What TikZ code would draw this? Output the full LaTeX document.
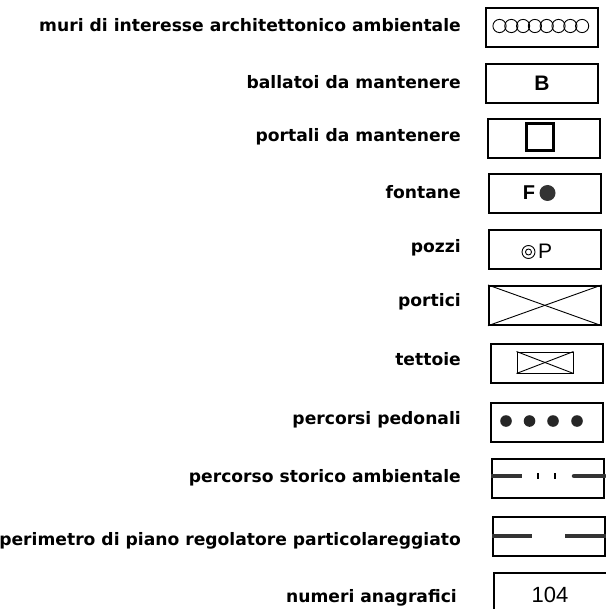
\documentclass[tikz,border=0pt]{standalone}
\usepackage{fontspec}
\setmainfont{DejaVu Sans}
\newfontfamily\symfont{Liberation Sans}
\begin{document}
\begin{tikzpicture}[x=1pt,y=-1pt,
  lbl/.style={anchor=east,font=\bfseries\fontsize{17.15}{20}\selectfont,inner sep=0pt},
  sym/.style={draw,line width=1.7pt,minimum width=112pt,minimum height=39pt,inner sep=0pt,anchor=north west},
  thin/.style={line width=0.9pt},
  thick bar/.style={line width=4.5pt},
  symtext/.style={font=\symfont\fontsize{21}{22}\selectfont,inner sep=0pt,anchor=center}]
\useasboundingbox (0,0) rectangle (605,609);
% labels
\node[lbl] (l1) at (461,25) {muri di interesse architettonico ambientale};
\node[lbl] (l2) at (461,82) {ballatoi da mantenere};
\node[lbl] (l3) at (461,137) {portali da mantenere};
\node[lbl] (l4) at (461,192) {fontane};
\node[lbl] (l5) at (461,248) {pozzi};
\node[lbl] (l6) at (461,302) {portici};
\node[lbl] (l7) at (461,359) {tettoie};
\node[lbl] (l8) at (461,420) {percorsi pedonali};
\node[lbl] (l9) at (461,478) {percorso storico ambientale};
\node[lbl] (l10) at (461,541) {perimetro di piano regolatore particolareggiato};
\node[lbl] (l11) at (457,598) {numeri anagrafici};
% symbol boxes
\node[sym] (b1) at (485,7) {};
\foreach \i in {0,...,7} \draw[thin] (499.5+\i*11.8,26) circle (6.6pt);
\node[sym] (b2) at (485,63) {};
\node[symtext,font=\symfont\bfseries\fontsize{21}{22}\selectfont] at (b2.center) {B};
\node[sym] (b3) at (487,118) {};
\draw[line width=3pt] (526,124) rectangle (553,151);
\node[sym] (b4) at (488,173) {};
\node[symtext,font=\symfont\bfseries\fontsize{20}{22}\selectfont] at (529,193) {F};
\fill[black!80] (547.5,193) circle (8pt);
\node[sym] (b5) at (488,229) {};
\draw[thin] (528.5,252) circle (6.5pt);
\draw[thin] (528.5,252) circle (3pt);
\node[symtext] at (545,251) {P};
\node[sym] (b6) at (488,285) {};
\draw[thin] (b6.north west) -- (b6.south east);
\draw[thin] (b6.south west) -- (b6.north east);
\node[sym] (b7) at (490,343) {};
\node[draw,thin,minimum width=56pt,minimum height=21pt,inner sep=0pt] (t7) at (545,362.5) {};
\draw[thin] (t7.north west) -- (t7.south east);
\draw[thin] (t7.south west) -- (t7.north east);
\node[sym] (b8) at (490,402) {};
\foreach \x in {506,529.5,553,577} \fill[black!85] (\x,421) circle (5.8pt);
\node[sym] (b9) at (491,458) {};
\draw[thick bar,black!80] (b9.west |- 0,476) -- (522,476);
\draw[thick bar,black!80,line cap=round] (574,476) -- (b9.east |- 0,476);
\draw[line width=2pt] (538,473) -- (538,479);
\draw[line width=2pt] (555,473) -- (555,479);
\node[sym] (b10) at (492,516) {};
\draw[thick bar,black!80] (b10.west |- 0,536) -- (532,536);
\draw[thick bar,black!80] (565,536) -- (b10.east |- 0,536);
\node[sym,minimum width=120pt,minimum height=50pt] (b11) at (493,572) {};
\node[symtext,font=\symfont\fontsize{22}{24}\selectfont] at (550,595) {104};
\end{tikzpicture}
\end{document}
